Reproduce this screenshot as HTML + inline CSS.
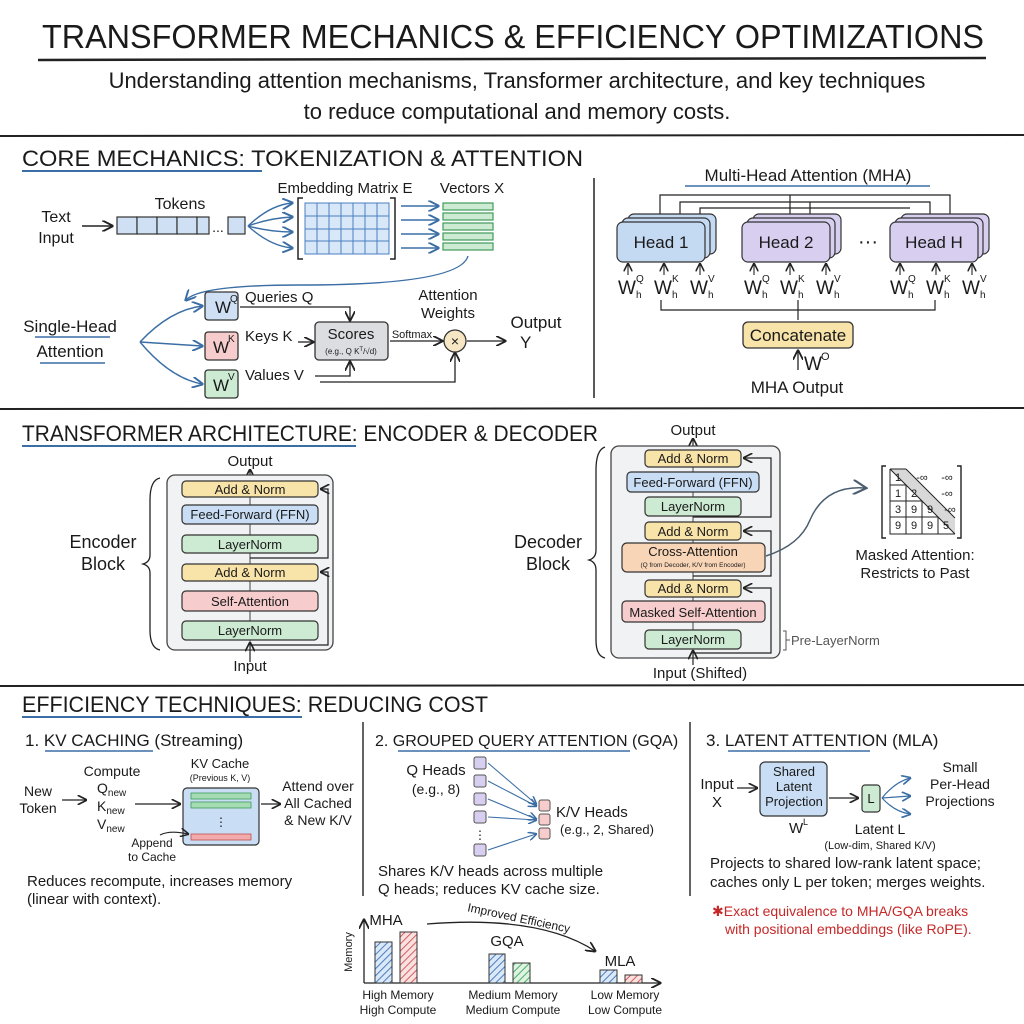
<!DOCTYPE html>
<html><head><meta charset="utf-8"><style>
html,body{margin:0;padding:0;background:#fff}
svg{display:block}
text{font-family:"Liberation Sans",sans-serif;fill:#1a1a1a}
</style></head><body>
<svg width="1024" height="1024" viewBox="0 0 1024 1024" xmlns="http://www.w3.org/2000/svg">
<defs>
<marker id="a" markerWidth="8" markerHeight="8" refX="7" refY="4" orient="auto"><path d="M0,0 L8,4 L0,8" fill="none" stroke="#222" stroke-width="1.4"/></marker>
<marker id="ab" markerWidth="8" markerHeight="8" refX="7" refY="4" orient="auto"><path d="M0,0 L8,4 L0,8" fill="none" stroke="#3a6ea5" stroke-width="1.4"/></marker>
<marker id="ag" markerWidth="10" markerHeight="10" refX="8" refY="5" orient="auto"><path d="M0,0 L9,5 L0,10" fill="none" stroke="#4a5d6e" stroke-width="1.4"/></marker>
<pattern id="hb" width="5" height="5" patternUnits="userSpaceOnUse" patternTransform="rotate(45)"><rect width="5" height="5" fill="#dbe8f7"/><line x1="0" y1="0" x2="0" y2="5" stroke="#4a7fc0" stroke-width="2"/></pattern>
<pattern id="hr" width="5" height="5" patternUnits="userSpaceOnUse" patternTransform="rotate(45)"><rect width="5" height="5" fill="#fbe0e0"/><line x1="0" y1="0" x2="0" y2="5" stroke="#d06060" stroke-width="2"/></pattern>
<pattern id="hg" width="5" height="5" patternUnits="userSpaceOnUse" patternTransform="rotate(45)"><rect width="5" height="5" fill="#dff3e3"/><line x1="0" y1="0" x2="0" y2="5" stroke="#4fae6a" stroke-width="2"/></pattern>
</defs>

<!-- Title -->
<text x="42" y="48" font-size="33" textLength="942" lengthAdjust="spacingAndGlyphs">TRANSFORMER MECHANICS &amp; EFFICIENCY OPTIMIZATIONS</text>
<line x1="38" y1="60" x2="986" y2="58" stroke="#222" stroke-width="2.5"/>
<text x="517" y="88" font-size="22" text-anchor="middle">Understanding attention mechanisms, Transformer architecture, and key techniques</text>
<text x="517" y="119" font-size="22" text-anchor="middle">to reduce computational and memory costs.</text>
<line x1="0" y1="136" x2="1024" y2="135" stroke="#222" stroke-width="2"/>

<!-- Section 1 -->
<text x="22" y="166" font-size="22" textLength="561" lengthAdjust="spacingAndGlyphs">CORE MECHANICS: TOKENIZATION &amp; ATTENTION</text>
<line x1="22" y1="171" x2="262" y2="171" stroke="#3a6ea5" stroke-width="2"/>
<line x1="594" y1="178" x2="594" y2="398" stroke="#222" stroke-width="1.5"/>

<text x="56" y="222" font-size="16" text-anchor="middle">Text</text>
<text x="56" y="243" font-size="16" text-anchor="middle">Input</text>
<line x1="82" y1="226" x2="112" y2="226" stroke="#222" stroke-width="1.4" marker-end="url(#a)"/>
<text x="180" y="209" font-size="16" text-anchor="middle">Tokens</text>
<g fill="#cfe0f5" stroke="#333" stroke-width="1.2">
<rect x="117" y="217" width="20" height="17"/><rect x="137" y="217" width="20" height="17"/><rect x="157" y="217" width="20" height="17"/><rect x="177" y="217" width="20" height="17"/><rect x="197" y="217" width="12" height="17"/><rect x="228" y="217" width="17" height="17"/></g>
<text x="218" y="232" font-size="14" text-anchor="middle">...</text>
<g stroke="#3a6ea5" stroke-width="1.4" fill="none" marker-end="url(#ab)">
<path d="M248,226 Q270,205 292,203"/><path d="M248,226 Q270,218 292,217"/><path d="M248,226 Q270,232 292,232"/><path d="M248,226 Q270,246 292,248"/></g>
<text x="345" y="193" font-size="15" text-anchor="middle">Embedding Matrix E</text>
<path d="M303,198 L298,198 L298,259 L303,259 M390,198 L395,198 L395,259 L390,259" fill="none" stroke="#222" stroke-width="1.5"/>
<rect x="305" y="203" width="84" height="51" fill="#d9e8f8" stroke="#4a7fc0" stroke-width="1"/>
<g stroke="#4a7fc0" stroke-width="1">
<line x1="317" y1="203" x2="317" y2="254"/><line x1="329" y1="203" x2="329" y2="254"/><line x1="341" y1="203" x2="341" y2="254"/><line x1="353" y1="203" x2="353" y2="254"/><line x1="365" y1="203" x2="365" y2="254"/><line x1="377" y1="203" x2="377" y2="254"/>
<line x1="305" y1="216" x2="389" y2="216"/><line x1="305" y1="229" x2="389" y2="229"/><line x1="305" y1="241" x2="389" y2="241"/></g>
<g stroke="#3a6ea5" stroke-width="1.4" marker-end="url(#ab)">
<line x1="401" y1="206" x2="438" y2="206"/><line x1="401" y1="220" x2="438" y2="220"/><line x1="401" y1="234" x2="438" y2="234"/><line x1="401" y1="248" x2="438" y2="248"/></g>
<text x="472" y="193" font-size="15" text-anchor="middle">Vectors X</text>
<g fill="#cdebd3" stroke="#3f9a5a" stroke-width="1.2">
<rect x="443" y="203" width="50" height="7"/><rect x="443" y="213" width="50" height="7"/><rect x="443" y="223" width="50" height="7"/><rect x="443" y="233" width="50" height="7"/><rect x="443" y="243" width="50" height="7"/></g>
<path d="M468,256 Q460,285 300,285 Q200,285 186,300" fill="none" stroke="#3a6ea5" stroke-width="1.4" marker-end="url(#ab)"/>

<text x="70" y="332" font-size="17" text-anchor="middle">Single-Head</text>
<text x="70" y="357" font-size="17" text-anchor="middle">Attention</text>
<line x1="35" y1="337" x2="110" y2="337" stroke="#3a6ea5" stroke-width="1.6"/>
<line x1="40" y1="363" x2="105" y2="363" stroke="#3a6ea5" stroke-width="1.6"/>
<g stroke="#3a6ea5" stroke-width="1.4" fill="none" marker-end="url(#ab)">
<path d="M140,342 Q170,310 202,306"/><path d="M140,342 L202,346"/><path d="M140,342 Q170,378 202,384"/></g>
<rect x="205" y="292" width="33" height="28" rx="3" fill="#cfe0f5" stroke="#333" stroke-width="1.3"/>
<text x="215" y="313" font-size="17">W</text><text x="230" y="302" font-size="10">Q</text>
<rect x="205" y="332" width="33" height="28" rx="3" fill="#f6cccc" stroke="#333" stroke-width="1.3"/>
<text x="213" y="353" font-size="17">W</text><text x="228" y="342" font-size="10">K</text>
<rect x="205" y="370" width="33" height="28" rx="3" fill="#cdebd3" stroke="#333" stroke-width="1.3"/>
<text x="213" y="391" font-size="17">W</text><text x="228" y="380" font-size="10">V</text>
<text x="245" y="302" font-size="15">Queries Q</text>
<text x="245" y="341" font-size="15">Keys K</text>
<text x="245" y="380" font-size="15">Values V</text>
<path d="M240,307 L350,307 L350,320" fill="none" stroke="#222" stroke-width="1.3" marker-end="url(#a)"/>
<line x1="298" y1="342" x2="313" y2="342" stroke="#222" stroke-width="1.3" marker-end="url(#a)"/>
<rect x="315" y="322" width="73" height="38" rx="4" fill="#dcdde0" stroke="#333" stroke-width="1.3"/>
<text x="351" y="339" font-size="15" text-anchor="middle">Scores</text>
<text x="351" y="354" font-size="8" text-anchor="middle">(e.g., Q K<tspan baseline-shift="super" font-size="6">T</tspan>/√d)</text>
<path d="M315,376 L350,376 L350,362" fill="none" stroke="#222" stroke-width="1.3" marker-end="url(#a)"/>
<path d="M320,382 L455,382 L455,353" fill="none" stroke="#222" stroke-width="1.3" marker-end="url(#a)"/>
<line x1="390" y1="341" x2="442" y2="341" stroke="#222" stroke-width="1.3" marker-end="url(#a)"/>
<text x="412" y="338" font-size="11" text-anchor="middle">Softmax</text>
<text x="448" y="300" font-size="15" text-anchor="middle">Attention</text>
<text x="448" y="318" font-size="15" text-anchor="middle">Weights</text>
<circle cx="455" cy="341" r="11" fill="#f6e6c4" stroke="#333" stroke-width="1.3"/>
<text x="455" y="346" font-size="14" text-anchor="middle">×</text>
<line x1="467" y1="341" x2="505" y2="341" stroke="#222" stroke-width="1.3" marker-end="url(#a)"/>
<text x="536" y="328" font-size="17" text-anchor="middle">Output</text>
<text x="520" y="348" font-size="17">Y</text>

<!-- MHA -->
<text x="808" y="181" font-size="17" text-anchor="middle">Multi-Head Attention (MHA)</text>
<line x1="685" y1="186" x2="930" y2="186" stroke="#3a6ea5" stroke-width="1.6"/>
<g fill="none" stroke="#222" stroke-width="1.2">
<path d="M660,214 L660,195 L950,195 L950,214"/><path d="M680,214 L680,202 L930,202 L930,214"/>
<path d="M700,214 L700,208 L910,208"/><path d="M790,214 L790,195"/><path d="M810,214 L810,202"/></g>
<g stroke="#333" stroke-width="1.2">
<rect x="628" y="214" width="88" height="40" rx="6" fill="#c4d9f2"/><rect x="622" y="218" width="88" height="40" rx="6" fill="#c4d9f2"/><rect x="617" y="222" width="88" height="40" rx="6" fill="#c4d9f2"/>
<rect x="753" y="214" width="88" height="40" rx="6" fill="#d8cef0"/><rect x="747" y="218" width="88" height="40" rx="6" fill="#d8cef0"/><rect x="742" y="222" width="88" height="40" rx="6" fill="#d8cef0"/>
<rect x="901" y="214" width="88" height="40" rx="6" fill="#d8cef0"/><rect x="895" y="218" width="88" height="40" rx="6" fill="#d8cef0"/><rect x="890" y="222" width="88" height="40" rx="6" fill="#d8cef0"/></g>
<text x="661" y="248" font-size="17" text-anchor="middle">Head 1</text>
<text x="786" y="248" font-size="17" text-anchor="middle">Head 2</text>
<text x="934" y="248" font-size="17" text-anchor="middle">Head H</text>
<text x="868" y="248" font-size="20" text-anchor="middle">···</text>
<g font-size="19">
<text x="618" y="294">W</text><text x="654" y="294">W</text><text x="690" y="294">W</text>
<text x="744" y="294">W</text><text x="780" y="294">W</text><text x="816" y="294">W</text>
<text x="890" y="294">W</text><text x="926" y="294">W</text><text x="962" y="294">W</text></g>
<g font-size="10">
<text x="636" y="282">Q</text><text x="636" y="298">h</text><text x="672" y="282">K</text><text x="672" y="298">h</text><text x="708" y="282">V</text><text x="708" y="298">h</text>
<text x="762" y="282">Q</text><text x="762" y="298">h</text><text x="798" y="282">K</text><text x="798" y="298">h</text><text x="834" y="282">V</text><text x="834" y="298">h</text>
<text x="908" y="282">Q</text><text x="908" y="298">h</text><text x="944" y="282">K</text><text x="944" y="298">h</text><text x="980" y="282">V</text><text x="980" y="298">h</text></g>
<g stroke="#222" stroke-width="1.1" marker-end="url(#a)">
<line x1="628" y1="275" x2="628" y2="264"/><line x1="664" y1="275" x2="664" y2="264"/><line x1="700" y1="275" x2="700" y2="264"/>
<line x1="754" y1="275" x2="754" y2="264"/><line x1="790" y1="275" x2="790" y2="264"/><line x1="826" y1="275" x2="826" y2="264"/>
<line x1="900" y1="275" x2="900" y2="264"/><line x1="936" y1="275" x2="936" y2="264"/><line x1="972" y1="275" x2="972" y2="264"/></g>
<path d="M661,300 L661,310 L935,310 L935,300 M798,300 L798,320" fill="none" stroke="#222" stroke-width="1.2"/>
<rect x="743" y="322" width="110" height="26" rx="5" fill="#f8e3a8" stroke="#333" stroke-width="1.3"/>
<text x="798" y="341" font-size="17" text-anchor="middle">Concatenate</text>
<line x1="798" y1="370" x2="798" y2="351" stroke="#222" stroke-width="1.3" marker-end="url(#a)"/>
<text x="804" y="370" font-size="19">W</text><text x="821" y="360" font-size="11">O</text>
<text x="797" y="393" font-size="17" text-anchor="middle">MHA Output</text>

<line x1="0" y1="409" x2="1024" y2="408" stroke="#222" stroke-width="2"/>

<!-- Section 2 -->
<text x="22" y="441" font-size="22" textLength="576" lengthAdjust="spacingAndGlyphs">TRANSFORMER ARCHITECTURE: ENCODER &amp; DECODER</text>
<line x1="22" y1="446" x2="356" y2="446" stroke="#3a6ea5" stroke-width="2"/>

<text x="103" y="548" font-size="18" text-anchor="middle">Encoder</text>
<text x="103" y="570" font-size="18" text-anchor="middle">Block</text>
<path d="M160,478 Q150,480 150,500 L150,555 Q150,562 143,564 Q150,566 150,573 L150,630 Q150,648 160,650" fill="none" stroke="#222" stroke-width="1.3"/>
<text x="250" y="466" font-size="15" text-anchor="middle">Output</text>
<line x1="250" y1="480" x2="250" y2="470" stroke="#222" stroke-width="1.2" marker-end="url(#a)"/>
<rect x="167" y="475" width="166" height="175" rx="8" fill="#f1f2f4" stroke="#444" stroke-width="1.3"/>
<line x1="250" y1="497" x2="250" y2="652" stroke="#444" stroke-width="1"/>
<g stroke="#333" stroke-width="1.2">
<rect x="182" y="481" width="136" height="16" rx="4" fill="#f8e3a8"/>
<rect x="182" y="505" width="136" height="19" rx="4" fill="#c9ddf4"/>
<rect x="182" y="535" width="136" height="18" rx="4" fill="#cdebd3"/>
<rect x="182" y="564" width="136" height="17" rx="4" fill="#f8e3a8"/>
<rect x="182" y="591" width="136" height="20" rx="4" fill="#f6cccc"/>
<rect x="182" y="621" width="136" height="19" rx="4" fill="#cdebd3"/></g>
<g font-size="13" text-anchor="middle">
<text x="250" y="494">Add &amp; Norm</text><text x="250" y="519">Feed-Forward (FFN)</text><text x="250" y="549">LayerNorm</text>
<text x="250" y="577">Add &amp; Norm</text><text x="250" y="606">Self-Attention</text><text x="250" y="635">LayerNorm</text></g>
<path d="M250,558 L328,558 L328,489 L321,489" fill="none" stroke="#222" stroke-width="1.2" marker-end="url(#a)"/>
<path d="M250,645 L328,645 L328,572 L321,572" fill="none" stroke="#222" stroke-width="1.2" marker-end="url(#a)"/>
<line x1="250" y1="662" x2="250" y2="643" stroke="#222" stroke-width="1.2" marker-end="url(#a)"/>
<text x="250" y="671" font-size="15" text-anchor="middle">Input</text>

<text x="548" y="548" font-size="18" text-anchor="middle">Decoder</text>
<text x="548" y="570" font-size="18" text-anchor="middle">Block</text>
<path d="M605,447 Q596,450 596,470 L596,550 Q596,558 589,560 Q596,562 596,570 L596,640 Q596,656 605,658" fill="none" stroke="#222" stroke-width="1.3"/>
<text x="693" y="435" font-size="15" text-anchor="middle">Output</text>
<line x1="693" y1="449" x2="693" y2="439" stroke="#222" stroke-width="1.2" marker-end="url(#a)"/>
<rect x="611" y="446" width="169" height="212" rx="8" fill="#f1f2f4" stroke="#444" stroke-width="1.3"/>
<line x1="693" y1="467" x2="693" y2="660" stroke="#444" stroke-width="1"/>
<g stroke="#333" stroke-width="1.2">
<rect x="645" y="450" width="96" height="17" rx="4" fill="#f8e3a8"/>
<rect x="627" y="472" width="132" height="20" rx="4" fill="#c9ddf4"/>
<rect x="645" y="497" width="96" height="19" rx="4" fill="#cdebd3"/>
<rect x="645" y="522" width="96" height="18" rx="4" fill="#f8e3a8"/>
<rect x="622" y="543" width="143" height="29" rx="5" fill="#f9d5b8"/>
<rect x="645" y="580" width="96" height="17" rx="4" fill="#f8e3a8"/>
<rect x="622" y="601" width="143" height="21" rx="4" fill="#f6cccc"/>
<rect x="645" y="630" width="96" height="19" rx="4" fill="#cdebd3"/></g>
<g font-size="13" text-anchor="middle">
<text x="693" y="463">Add &amp; Norm</text><text x="693" y="487">Feed-Forward (FFN)</text><text x="693" y="511">LayerNorm</text>
<text x="693" y="536">Add &amp; Norm</text><text x="693" y="556">Cross-Attention</text><text x="693" y="593">Add &amp; Norm</text>
<text x="693" y="617">Masked Self-Attention</text><text x="693" y="644">LayerNorm</text></g>
<text x="693" y="567" font-size="6.5" text-anchor="middle">(Q from Decoder, K/V from Encoder)</text>
<path d="M693,517 L771,517 L771,458 L744,458" fill="none" stroke="#222" stroke-width="1.2" marker-end="url(#a)"/>
<path d="M693,576 L771,576 L771,531 L744,531" fill="none" stroke="#222" stroke-width="1.2" marker-end="url(#a)"/>
<path d="M693,653 L771,653 L771,588 L744,588" fill="none" stroke="#222" stroke-width="1.2" marker-end="url(#a)"/>
<line x1="693" y1="665" x2="693" y2="651" stroke="#222" stroke-width="1.2" marker-end="url(#a)"/>
<text x="700" y="678" font-size="15" text-anchor="middle">Input (Shifted)</text>
<path d="M783,631 L786,631 L786,650 L783,650 M786,640 L790,640" fill="none" stroke="#555" stroke-width="1"/>
<text x="791" y="645" font-size="13" style="fill:#555">Pre-LayerNorm</text>
<path d="M766,556 Q800,545 810,520 Q825,485 865,488" fill="none" stroke="#4a5d6e" stroke-width="1.5" marker-end="url(#ag)"/>

<path d="M886,466 L882,466 L882,538 L886,538 M957,466 L961,466 L961,538 L957,538" fill="none" stroke="#222" stroke-width="1.4"/>
<polygon points="890,469 906,469 955,518 955,534" fill="#d8d8d8"/>
<g stroke="#222" stroke-width="1" fill="none">
<line x1="890" y1="469" x2="955" y2="534"/>
<line x1="906" y1="469" x2="955" y2="518"/>
<path d="M890,469 L890,534 L955,534 M890,485 L906,485 M890,501 L922,501 M890,517 L938,517 M906,485 L906,534 M922,501 L922,534 M938,517 L938,534 M890,469 L906,469"/></g>
<g font-size="11" text-anchor="middle">
<text x="898" y="481">1</text><text x="898" y="497">1</text><text x="914" y="497">2</text>
<text x="898" y="513">3</text><text x="914" y="513">9</text><text x="930" y="513">9</text>
<text x="898" y="529">9</text><text x="914" y="529">9</text><text x="930" y="529">9</text><text x="946" y="529">5</text>
<text x="922" y="481">-∞</text><text x="947" y="481">-∞</text><text x="947" y="497">-∞</text><text x="950" y="513">-∞</text></g>
<text x="915" y="560" font-size="15" text-anchor="middle">Masked Attention:</text>
<text x="915" y="578" font-size="15" text-anchor="middle">Restricts to Past</text>

<line x1="0" y1="686" x2="1024" y2="685" stroke="#222" stroke-width="2"/>

<!-- Section 3 -->
<text x="22" y="712" font-size="22" textLength="466" lengthAdjust="spacingAndGlyphs">EFFICIENCY TECHNIQUES: REDUCING COST</text>
<line x1="22" y1="717" x2="302" y2="717" stroke="#3a6ea5" stroke-width="2"/>
<line x1="363" y1="722" x2="363" y2="896" stroke="#222" stroke-width="1.4"/>
<line x1="690" y1="722" x2="690" y2="896" stroke="#222" stroke-width="1.4"/>

<text x="25" y="746" font-size="17">1. KV CACHING (Streaming)</text>
<line x1="45" y1="751" x2="153" y2="751" stroke="#3a6ea5" stroke-width="1.6"/>
<text x="38" y="796" font-size="14" text-anchor="middle">New</text>
<text x="38" y="813" font-size="14" text-anchor="middle">Token</text>
<line x1="62" y1="800" x2="86" y2="800" stroke="#222" stroke-width="1.2" marker-end="url(#a)"/>
<text x="112" y="776" font-size="14" text-anchor="middle">Compute</text>
<text x="97" y="793" font-size="14">Q<tspan font-size="10" dy="3">new</tspan></text>
<text x="97" y="811" font-size="14">K<tspan font-size="10" dy="3">new</tspan></text>
<text x="97" y="829" font-size="14">V<tspan font-size="10" dy="3">new</tspan></text>
<line x1="135" y1="804" x2="180" y2="804" stroke="#222" stroke-width="1.2" marker-end="url(#a)"/>
<text x="220" y="768" font-size="13" text-anchor="middle">KV Cache</text>
<text x="220" y="781" font-size="9" text-anchor="middle">(Previous K, V)</text>
<rect x="183" y="788" width="76" height="57" rx="4" fill="#c9ddf4" stroke="#333" stroke-width="1.2"/>
<rect x="191" y="793" width="60" height="6" fill="#a6dcb3" stroke="#3f9a5a" stroke-width="0.8"/>
<rect x="191" y="802" width="60" height="6" fill="#a6dcb3" stroke="#3f9a5a" stroke-width="0.8"/>
<text x="221" y="826" font-size="12" text-anchor="middle">⋮</text>
<rect x="191" y="834" width="60" height="6" fill="#f2aaaa" stroke="#c05050" stroke-width="0.8"/>
<path d="M160,835 Q170,830 188,834" fill="none" stroke="#222" stroke-width="1.1" marker-end="url(#a)"/>
<text x="152" y="847" font-size="12" text-anchor="middle">Append</text>
<text x="152" y="861" font-size="12" text-anchor="middle">to Cache</text>
<line x1="261" y1="804" x2="280" y2="804" stroke="#222" stroke-width="1.2" marker-end="url(#a)"/>
<text x="318" y="791" font-size="14" text-anchor="middle">Attend over</text>
<text x="318" y="808" font-size="14" text-anchor="middle">All Cached</text>
<text x="318" y="825" font-size="14" text-anchor="middle">&amp; New K/V</text>
<text x="27" y="886" font-size="15">Reduces recompute, increases memory</text>
<text x="27" y="904" font-size="15">(linear with context).</text>

<text x="375" y="746" font-size="16">2. GROUPED QUERY ATTENTION (GQA)</text>
<line x1="398" y1="751" x2="630" y2="751" stroke="#3a6ea5" stroke-width="1.6"/>
<text x="436" y="775" font-size="15" text-anchor="middle">Q Heads</text>
<text x="436" y="794" font-size="14" text-anchor="middle">(e.g., 8)</text>
<g fill="#d8cef0" stroke="#555" stroke-width="1">
<rect x="474" y="757" width="12" height="12" rx="2"/><rect x="474" y="775" width="12" height="12" rx="2"/><rect x="474" y="793" width="12" height="12" rx="2"/>
<rect x="474" y="811" width="12" height="12" rx="2"/><rect x="474" y="844" width="12" height="12" rx="2"/></g>
<text x="480" y="839" font-size="12" text-anchor="middle">⋮</text>
<g fill="#f6cccc" stroke="#555" stroke-width="1">
<rect x="539" y="800" width="11" height="11" rx="2"/><rect x="539" y="814" width="11" height="11" rx="2"/><rect x="539" y="828" width="11" height="11" rx="2"/></g>
<g stroke="#3a6ea5" stroke-width="1.1" marker-end="url(#ab)">
<line x1="488" y1="763" x2="536" y2="804"/><line x1="488" y1="781" x2="536" y2="806"/><line x1="488" y1="799" x2="536" y2="819"/><line x1="488" y1="817" x2="536" y2="820"/><line x1="488" y1="850" x2="536" y2="834"/></g>
<text x="556" y="817" font-size="15">K/V Heads</text>
<text x="560" y="834" font-size="13">(e.g., 2, Shared)</text>
<text x="378" y="876" font-size="15">Shares K/V heads across multiple</text>
<text x="378" y="894" font-size="15">Q heads; reduces KV cache size.</text>

<text x="706" y="746" font-size="17">3. LATENT ATTENTION (MLA)</text>
<line x1="728" y1="751" x2="870" y2="751" stroke="#3a6ea5" stroke-width="1.6"/>
<text x="717" y="789" font-size="15" text-anchor="middle">Input</text>
<text x="717" y="807" font-size="15" text-anchor="middle">X</text>
<line x1="737" y1="788" x2="757" y2="788" stroke="#222" stroke-width="1.2" marker-end="url(#a)"/>
<rect x="760" y="762" width="67" height="54" rx="5" fill="#c9ddf4" stroke="#333" stroke-width="1.2"/>
<text x="794" y="776" font-size="13" text-anchor="middle">Shared</text>
<text x="794" y="791" font-size="13" text-anchor="middle">Latent</text>
<text x="794" y="806" font-size="13" text-anchor="middle">Projection</text>
<text x="789" y="833" font-size="15">W</text><text x="803" y="825" font-size="9">L</text>
<line x1="829" y1="798" x2="858" y2="798" stroke="#222" stroke-width="1.2" marker-end="url(#a)"/>
<rect x="862" y="785" width="18" height="27" rx="3" fill="#cdebd3" stroke="#333" stroke-width="1.2"/>
<text x="871" y="803" font-size="13" text-anchor="middle">L</text>
<g stroke="#3a6ea5" stroke-width="1.2" fill="none" marker-end="url(#ab)">
<path d="M882,798 Q895,782 910,778"/><path d="M882,798 L910,796"/><path d="M882,798 Q895,812 910,814"/></g>
<text x="960" y="772" font-size="14" text-anchor="middle">Small</text>
<text x="960" y="789" font-size="14" text-anchor="middle">Per-Head</text>
<text x="960" y="806" font-size="14" text-anchor="middle">Projections</text>
<text x="880" y="834" font-size="14" text-anchor="middle">Latent L</text>
<text x="880" y="849" font-size="11" text-anchor="middle">(Low-dim, Shared K/V)</text>
<text x="710" y="868" font-size="15">Projects to shared low-rank latent space;</text>
<text x="710" y="887" font-size="15">caches only L per token; merges weights.</text>
<text x="712" y="916" font-size="14" style="fill:#c62828">✱Exact equivalence to MHA/GQA breaks</text>
<text x="725" y="934" font-size="14" style="fill:#c62828">with positional embeddings (like RoPE).</text>

<!-- Bar chart -->
<line x1="364" y1="983" x2="364" y2="920" stroke="#222" stroke-width="1.3" marker-end="url(#a)"/>
<line x1="364" y1="983" x2="660" y2="983" stroke="#222" stroke-width="1.3" marker-end="url(#a)"/>
<text x="352" y="952" font-size="11" text-anchor="middle" transform="rotate(-90 352 952)">Memory</text>
<rect x="375" y="942" width="17" height="41" fill="url(#hb)" stroke="#333" stroke-width="1"/>
<rect x="400" y="932" width="17" height="51" fill="url(#hr)" stroke="#333" stroke-width="1"/>
<rect x="489" y="954" width="16" height="29" fill="url(#hb)" stroke="#333" stroke-width="1"/>
<rect x="513" y="963" width="17" height="20" fill="url(#hg)" stroke="#333" stroke-width="1"/>
<rect x="600" y="970" width="17" height="13" fill="url(#hb)" stroke="#333" stroke-width="1"/>
<rect x="625" y="975" width="17" height="8" fill="url(#hr)" stroke="#333" stroke-width="1"/>
<text x="386" y="925" font-size="15" text-anchor="middle">MHA</text>
<text x="507" y="946" font-size="15" text-anchor="middle">GQA</text>
<text x="620" y="966" font-size="15" text-anchor="middle">MLA</text>
<path d="M427,924 Q540,915 595,951" fill="none" stroke="#222" stroke-width="1.3" marker-end="url(#a)"/>
<text x="518" y="922" font-size="12" text-anchor="middle" transform="rotate(12 518 922)">Improved Efficiency</text>
<g font-size="12" text-anchor="middle">
<text x="398" y="999">High Memory</text><text x="398" y="1014">High Compute</text>
<text x="513" y="999">Medium Memory</text><text x="513" y="1014">Medium Compute</text>
<text x="625" y="999">Low Memory</text><text x="625" y="1014">Low Compute</text></g>
</svg>
</body></html>
